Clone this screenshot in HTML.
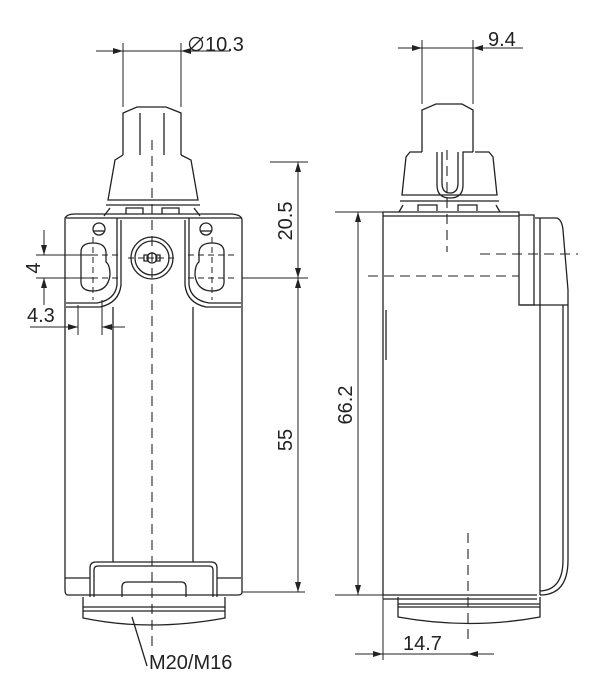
<!DOCTYPE html>
<html><head><meta charset="utf-8"><style>
html,body{margin:0;padding:0;background:#fff}
svg{display:block}
text{font-family:"Liberation Sans","DejaVu Sans",sans-serif;fill:#222}
</style></head><body>
<svg width="600" height="698" viewBox="0 0 600 698" xmlns="http://www.w3.org/2000/svg">
<defs>
<marker id="a" viewBox="0 0 10 6" refX="10" refY="3" markerWidth="10" markerHeight="6" orient="auto-start-reverse" markerUnits="userSpaceOnUse"><path d="M0,0 L10,3 L0,6 z" fill="#222"/></marker>
</defs>
<g fill="none" stroke="#222" stroke-width="1.3">
<path d="M123,155 V113 L137,107 H166 L181,113 V155"/>
<line x1="140" y1="113" x2="140" y2="155"/><line x1="164" y1="113" x2="164" y2="155"/>
<path d="M123,155 L115,160 L108,200 H198 L191,160 L181,155"/>
<line x1="106" y1="205" x2="200" y2="205"/>
<path d="M104,216 L110,208 M200,216 L194,208 M126,214 V208 H143 V214 M162,214 V208 H179 V214"/>
<path d="M65,218 Q67,214 75,214 L232,214 Q242,215 242,220 V592 Q242,595 238,595 H68 Q65,595 65,590 Z"/>
<line x1="66" y1="218" x2="241" y2="218"/>
<path d="M117,218 V285 Q115,300 97,303 H66"/>
<path d="M121,220 V285 Q119,303 100,307 H66"/>
<path d="M189,218 V285 Q191,300 209,303 H241"/>
<path d="M185,220 V285 Q187,303 206,307 H241"/>
<line x1="113" y1="307" x2="113" y2="562"/>
<line x1="193" y1="307" x2="193" y2="562"/>
<circle cx="152" cy="258" r="21"/><circle cx="152" cy="258" r="17"/>
<circle cx="152" cy="258" r="5"/>
<path d="M144,255 h4 v6 h-4 z M156,255 h4 v6 h-4 z"/>
<circle cx="99" cy="229" r="6"/><line x1="94" y1="231" x2="104" y2="231"/>
<circle cx="206" cy="229" r="6"/><line x1="201" y1="231" x2="211" y2="231"/>
<path d="M81,252 Q81,243 93,243 Q105,243 106,252 V262 Q110,265 110,275 Q108,291 93,291 Q80,291 81,280 Z"/>
<path d="M224,252 Q224,243 212,243 Q200,243 199,252 V262 Q195,265 195,275 Q197,291 212,291 Q225,291 224,280 Z"/>
<path d="M65,578 H90 M217,578 H241"/>
<path d="M90,597 V568 Q90,562 96,562 H211 Q217,562 217,568 V597"/>
<path d="M94,597 V570 Q94,566 98,566 H209 Q213,566 213,570 V597"/>
<path d="M122,597 V587 Q122,582 127,582 H181 Q186,582 186,587 V597"/>
<path d="M83,597 V618 Q150,632 225,618 V597"/>
<line x1="83" y1="607" x2="225" y2="607"/><line x1="83" y1="611" x2="225" y2="611"/>
<line x1="132" y1="617" x2="147" y2="666"/>
<line x1="152" y1="140" x2="152" y2="650" stroke-dasharray="10,6" stroke-width="1.1"/>
<line x1="93" y1="237" x2="93" y2="300" stroke-dasharray="6,4" stroke-width="1"/>
<line x1="212" y1="237" x2="212" y2="300" stroke-dasharray="6,4" stroke-width="1"/>
<line x1="72" y1="255" x2="118" y2="255" stroke-dasharray="6,4" stroke-width="1"/>
<line x1="72" y1="278" x2="118" y2="278" stroke-dasharray="6,4" stroke-width="1"/>
<line x1="188" y1="255" x2="234" y2="255" stroke-dasharray="6,4" stroke-width="1"/>
<line x1="188" y1="278" x2="234" y2="278" stroke-dasharray="6,4" stroke-width="1"/>
<line x1="128" y1="258" x2="176" y2="258" stroke-dasharray="6,4" stroke-width="1"/>
<g stroke-width="1">
<line x1="123" y1="43" x2="123" y2="107"/><line x1="181" y1="43" x2="181" y2="107"/>
<line x1="96" y1="51" x2="123" y2="51" marker-end="url(#a)"/>
<line x1="123" y1="51" x2="181" y2="51"/>
<line x1="230" y1="51" x2="181" y2="51" marker-end="url(#a)"/>
<line x1="36" y1="255" x2="93" y2="255"/><line x1="36" y1="278" x2="93" y2="278"/>
<line x1="44" y1="230" x2="44" y2="255" marker-end="url(#a)"/>
<line x1="44" y1="305" x2="44" y2="278" marker-end="url(#a)"/>
<line x1="78" y1="305" x2="78" y2="335"/><line x1="102" y1="300" x2="102" y2="335"/>
<line x1="30" y1="327" x2="78" y2="327" marker-end="url(#a)"/>
<line x1="125" y1="327" x2="102" y2="327" marker-end="url(#a)"/>
<line x1="270" y1="162" x2="308" y2="162"/>
<line x1="242" y1="278" x2="308" y2="278"/>
<line x1="242" y1="592" x2="305" y2="592"/>
<line x1="298" y1="270" x2="298" y2="162" marker-end="url(#a)"/>
<line x1="298" y1="162" x2="298" y2="278" marker-end="url(#a)"/>
<line x1="298" y1="300" x2="298" y2="278" marker-end="url(#a)"/>
<line x1="298" y1="278" x2="298" y2="592" marker-end="url(#a)"/>
</g>

<path d="M422,152 V110 L436,104 H462 L473,110 V152"/>
<path d="M422,152 H410 L406,157 L402,195 H497 L493,157 L489,152 H475 M437,152 V185 Q437,198 450,198 Q463,198 463,185 V152 H473"/>
<path d="M442,152 V183 Q442,193 450,193 Q458,193 458,183 V152"/>
<line x1="400" y1="201" x2="499" y2="201"/>
<path d="M399,212 L403,205 M500,212 L496,205 M418,211 V205 H437 V211 M458,211 V205 H477 V211"/>
<path d="M383,212 H519 V305 H535"/>
<line x1="383" y1="216" x2="519" y2="216"/>
<path d="M383,212 V595 H537"/>
<path d="M519,215 H534 V305"/>
<path d="M535,218 H557 Q562,220 563,230 L568,290 V560 Q568,595 540,595"/>
<path d="M540,218 V595"/>
<path d="M563,305 V560 Q563,590 540,591"/>
<path d="M520,305 H568"/>
<line x1="386" y1="310" x2="386" y2="360"/>
<path d="M398,597 V617 Q470,630 540,617 V597"/>
<line x1="398" y1="604" x2="540" y2="604"/><line x1="398" y1="607" x2="540" y2="607"/>
<line x1="383" y1="599" x2="537" y2="599"/>
<line x1="447" y1="150" x2="447" y2="252" stroke-dasharray="10,6" stroke-width="1.1"/>
<line x1="468" y1="533" x2="468" y2="640" stroke-dasharray="10,6" stroke-width="1.1"/>
<line x1="480" y1="254" x2="578" y2="254" stroke-dasharray="10,6" stroke-width="1.1"/>
<line x1="368" y1="276" x2="519" y2="276" stroke-dasharray="10,6" stroke-width="1.1"/>
<g stroke-width="1">
<line x1="422" y1="40" x2="422" y2="104"/><line x1="473" y1="40" x2="473" y2="104"/>
<line x1="398" y1="48" x2="422" y2="48" marker-end="url(#a)"/>
<line x1="422" y1="48" x2="473" y2="48"/>
<line x1="523" y1="48" x2="473" y2="48" marker-end="url(#a)"/>
<line x1="335" y1="212" x2="383" y2="212"/>
<line x1="335" y1="595" x2="383" y2="595"/>
<line x1="358" y1="400" x2="358" y2="212" marker-end="url(#a)"/>
<line x1="358" y1="400" x2="358" y2="595" marker-end="url(#a)"/>
<line x1="383" y1="595" x2="383" y2="660"/>
<line x1="355" y1="654" x2="383" y2="654" marker-end="url(#a)"/>
<line x1="383" y1="654" x2="468" y2="654"/>
<line x1="494" y1="654" x2="468" y2="654" marker-end="url(#a)"/>
</g>
</g>
<circle cx="196" cy="44" r="6.5" fill="none" stroke="#222" stroke-width="1.3"/>
<line x1="189" y1="51" x2="203" y2="37" stroke="#222" stroke-width="1.3"/>
<text x="205" y="51" font-size="20">10.3</text>
<text x="488" y="46" font-size="20">9.4</text>
<text x="40" y="268" font-size="20" text-anchor="middle" transform="rotate(-90 40 268)">4</text>
<text x="27" y="322" font-size="20">4.3</text>
<text x="292" y="221" font-size="20" text-anchor="middle" transform="rotate(-90 292 221)">20.5</text>
<text x="292" y="440" font-size="20" text-anchor="middle" transform="rotate(-90 292 440)">55</text>
<text x="352" y="405" font-size="20" text-anchor="middle" transform="rotate(-90 352 405)">66.2</text>
<text x="403" y="650" font-size="20">14.7</text>
<text x="149" y="669" font-size="20">M20/M16</text>
</svg>
</body></html>
